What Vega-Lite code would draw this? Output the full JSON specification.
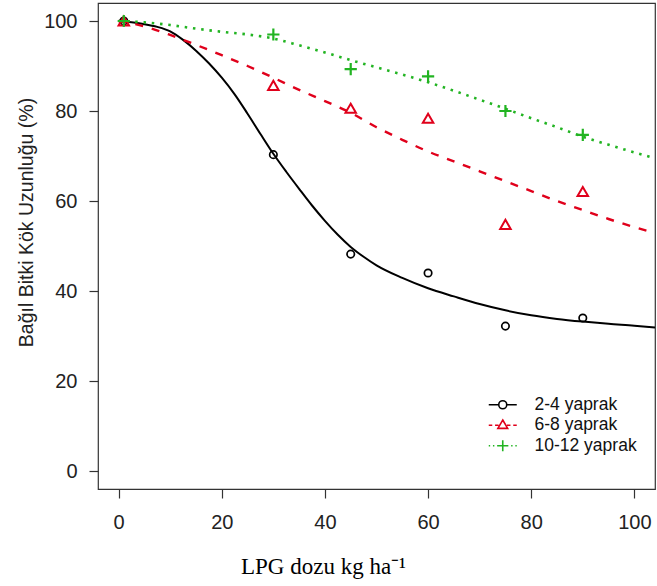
{
  "$schema": "https://vega.github.io/schema/vega-lite/v6.json",
  "width": 557,
  "height": 486,
  "autosize": {"type": "none"},
  "padding": {"left": 98, "top": 3, "right": 2, "bottom": 97},
  "background": "white",
  "config": {
    "view": {"stroke": "#333333", "strokeWidth": 1.2},
    "font": "Liberation Sans"
  },
  "datasets": {
    "fit": [
      {"x": 0, "y": 100, "series": "2-4 yaprak"},
      {"x": 2.5, "y": 99.7, "series": "2-4 yaprak"},
      {"x": 5, "y": 99.3, "series": "2-4 yaprak"},
      {"x": 7.5, "y": 98.7, "series": "2-4 yaprak"},
      {"x": 10, "y": 97.7, "series": "2-4 yaprak"},
      {"x": 12.5, "y": 95.8, "series": "2-4 yaprak"},
      {"x": 15, "y": 93.4, "series": "2-4 yaprak"},
      {"x": 17.5, "y": 90.6, "series": "2-4 yaprak"},
      {"x": 20, "y": 87.4, "series": "2-4 yaprak"},
      {"x": 22.5, "y": 83.7, "series": "2-4 yaprak"},
      {"x": 25, "y": 79.4, "series": "2-4 yaprak"},
      {"x": 27.5, "y": 74.9, "series": "2-4 yaprak"},
      {"x": 30, "y": 70.5, "series": "2-4 yaprak"},
      {"x": 32.5, "y": 66.5, "series": "2-4 yaprak"},
      {"x": 35, "y": 62.7, "series": "2-4 yaprak"},
      {"x": 37.5, "y": 59.0, "series": "2-4 yaprak"},
      {"x": 40, "y": 55.6, "series": "2-4 yaprak"},
      {"x": 42.5, "y": 52.5, "series": "2-4 yaprak"},
      {"x": 45, "y": 49.8, "series": "2-4 yaprak"},
      {"x": 47.5, "y": 47.6, "series": "2-4 yaprak"},
      {"x": 50, "y": 45.7, "series": "2-4 yaprak"},
      {"x": 55, "y": 42.9, "series": "2-4 yaprak"},
      {"x": 60, "y": 40.6, "series": "2-4 yaprak"},
      {"x": 65, "y": 38.8, "series": "2-4 yaprak"},
      {"x": 70, "y": 37.1, "series": "2-4 yaprak"},
      {"x": 75, "y": 35.7, "series": "2-4 yaprak"},
      {"x": 80, "y": 34.6, "series": "2-4 yaprak"},
      {"x": 85, "y": 33.8, "series": "2-4 yaprak"},
      {"x": 90, "y": 33.2, "series": "2-4 yaprak"},
      {"x": 95, "y": 32.7, "series": "2-4 yaprak"},
      {"x": 100, "y": 32.3, "series": "2-4 yaprak"},
      {"x": 104, "y": 31.9, "series": "2-4 yaprak"},
      {"x": 0, "y": 100, "series": "6-8 yaprak"},
      {"x": 5, "y": 98.8, "series": "6-8 yaprak"},
      {"x": 10, "y": 96.9, "series": "6-8 yaprak"},
      {"x": 15, "y": 94.7, "series": "6-8 yaprak"},
      {"x": 20, "y": 92.4, "series": "6-8 yaprak"},
      {"x": 25, "y": 90.0, "series": "6-8 yaprak"},
      {"x": 30, "y": 87.4, "series": "6-8 yaprak"},
      {"x": 35, "y": 84.7, "series": "6-8 yaprak"},
      {"x": 40, "y": 82.2, "series": "6-8 yaprak"},
      {"x": 45, "y": 79.6, "series": "6-8 yaprak"},
      {"x": 50, "y": 76.4, "series": "6-8 yaprak"},
      {"x": 55, "y": 73.6, "series": "6-8 yaprak"},
      {"x": 60, "y": 71.0, "series": "6-8 yaprak"},
      {"x": 65, "y": 68.8, "series": "6-8 yaprak"},
      {"x": 70, "y": 66.6, "series": "6-8 yaprak"},
      {"x": 75, "y": 64.4, "series": "6-8 yaprak"},
      {"x": 80, "y": 62.2, "series": "6-8 yaprak"},
      {"x": 85, "y": 60.0, "series": "6-8 yaprak"},
      {"x": 90, "y": 58.0, "series": "6-8 yaprak"},
      {"x": 95, "y": 56.0, "series": "6-8 yaprak"},
      {"x": 100, "y": 54.2, "series": "6-8 yaprak"},
      {"x": 104, "y": 52.9, "series": "6-8 yaprak"},
      {"x": 0, "y": 100, "series": "10-12 yaprak"},
      {"x": 5, "y": 99.7, "series": "10-12 yaprak"},
      {"x": 10, "y": 99.1, "series": "10-12 yaprak"},
      {"x": 15, "y": 98.3, "series": "10-12 yaprak"},
      {"x": 20, "y": 97.6, "series": "10-12 yaprak"},
      {"x": 25, "y": 97.0, "series": "10-12 yaprak"},
      {"x": 30, "y": 96.1, "series": "10-12 yaprak"},
      {"x": 35, "y": 94.6, "series": "10-12 yaprak"},
      {"x": 40, "y": 93.0, "series": "10-12 yaprak"},
      {"x": 45, "y": 91.3, "series": "10-12 yaprak"},
      {"x": 50, "y": 89.7, "series": "10-12 yaprak"},
      {"x": 55, "y": 88.1, "series": "10-12 yaprak"},
      {"x": 60, "y": 86.4, "series": "10-12 yaprak"},
      {"x": 65, "y": 84.5, "series": "10-12 yaprak"},
      {"x": 70, "y": 82.5, "series": "10-12 yaprak"},
      {"x": 75, "y": 80.5, "series": "10-12 yaprak"},
      {"x": 80, "y": 78.4, "series": "10-12 yaprak"},
      {"x": 85, "y": 76.4, "series": "10-12 yaprak"},
      {"x": 90, "y": 74.3, "series": "10-12 yaprak"},
      {"x": 95, "y": 72.5, "series": "10-12 yaprak"},
      {"x": 100, "y": 70.8, "series": "10-12 yaprak"},
      {"x": 104, "y": 69.5, "series": "10-12 yaprak"}
    ],
    "obs": [
      {"x": 1, "y": 100, "series": "2-4 yaprak"},
      {"x": 30, "y": 70.3, "series": "2-4 yaprak"},
      {"x": 45, "y": 48.2, "series": "2-4 yaprak"},
      {"x": 60, "y": 44.0, "series": "2-4 yaprak"},
      {"x": 75, "y": 32.2, "series": "2-4 yaprak"},
      {"x": 90, "y": 34.0, "series": "2-4 yaprak"},
      {"x": 1, "y": 100, "series": "6-8 yaprak"},
      {"x": 30, "y": 85.7, "series": "6-8 yaprak"},
      {"x": 45, "y": 80.6, "series": "6-8 yaprak"},
      {"x": 60, "y": 78.4, "series": "6-8 yaprak"},
      {"x": 75, "y": 54.8, "series": "6-8 yaprak"},
      {"x": 90, "y": 62.1, "series": "6-8 yaprak"},
      {"x": 1, "y": 100, "series": "10-12 yaprak"},
      {"x": 30, "y": 97.0, "series": "10-12 yaprak"},
      {"x": 45, "y": 89.3, "series": "10-12 yaprak"},
      {"x": 60, "y": 87.7, "series": "10-12 yaprak"},
      {"x": 75, "y": 80.0, "series": "10-12 yaprak"},
      {"x": 90, "y": 74.7, "series": "10-12 yaprak"}
    ]
  },
  "encoding": {
    "x": {
      "field": "x", "type": "quantitative",
      "scale": {"domain": [-4, 104], "nice": false, "zero": false},
      "axis": {
        "values": [0, 20, 40, 60, 80, 100],
        "title": "LPG dozu kg ha⁻¹",
        "titleFont": "Liberation Serif",
        "titleFontSize": 23,
        "titleFontWeight": "normal",
        "titleColor": "#000000",
        "titleX": 225,
        "titleY": 77,
        "titleAlign": "center",
        "titleBaseline": "middle",
        "labelFontSize": 20,
        "labelColor": "#222222",
        "labelPadding": 14,
        "labelFlush": false,
        "labelOverlap": false,
        "tickSize": 9,
        "tickColor": "#333333",
        "tickWidth": 1.2,
        "domain": false,
        "grid": false
      }
    },
    "y": {
      "field": "y", "type": "quantitative",
      "scale": {"domain": [-4, 104], "nice": false, "zero": false},
      "axis": {
        "values": [0, 20, 40, 60, 80, 100],
        "title": "Bağıl Bitki Kök Uzunluğu (%)",
        "titleFontSize": 19.5,
        "titleFontWeight": "normal",
        "titleColor": "#222222",
        "titleX": -72,
        "titleY": 219,
        "titleAlign": "center",
        "titleBaseline": "middle",
        "titleAngle": 270,
        "labelFontSize": 20,
        "labelColor": "#222222",
        "labelPadding": 12,
        "labelFlush": false,
        "labelOverlap": false,
        "tickSize": 9,
        "tickColor": "#333333",
        "tickWidth": 1.2,
        "domain": false,
        "grid": false
      }
    }
  },
  "layer": [
    {
      "data": {"name": "fit"},
      "transform": [{"filter": "datum.series === '2-4 yaprak'"}],
      "mark": {"type": "line", "interpolate": "monotone", "clip": true, "color": "#000000", "strokeWidth": 2}
    },
    {
      "data": {"name": "fit"},
      "transform": [{"filter": "datum.series === '6-8 yaprak'"}],
      "mark": {"type": "line", "interpolate": "monotone", "clip": true, "color": "#e0001b", "strokeWidth": 2.4, "strokeDash": [8, 9]}
    },
    {
      "data": {"name": "fit"},
      "transform": [{"filter": "datum.series === '10-12 yaprak'"}],
      "mark": {"type": "line", "interpolate": "monotone", "clip": true, "color": "#22b422", "strokeWidth": 2.6, "strokeDash": [2.5, 5.8]}
    },
    {
      "data": {"name": "obs"},
      "transform": [{"filter": "datum.series === '2-4 yaprak'"}],
      "mark": {"type": "point", "shape": "circle", "size": 55, "filled": false, "opacity": 1, "color": "#000000", "strokeWidth": 1.7}
    },
    {
      "data": {"name": "obs"},
      "transform": [{"filter": "datum.series === '6-8 yaprak'"}],
      "mark": {"type": "point", "shape": "triangle-up", "size": 110, "filled": false, "opacity": 1, "color": "#e0001b", "strokeWidth": 2}
    },
    {
      "data": {"name": "obs"},
      "transform": [{"filter": "datum.series === '10-12 yaprak'"}],
      "mark": {"type": "point", "shape": "M0,-1L0,1M-1,0L1,0", "size": 150, "filled": false, "opacity": 1, "color": "#22b422", "strokeWidth": 2.2}
    },
    {
      "data": {"name": "obs"},
      "transform": [{"filter": "false"}],
      "mark": {"type": "point", "filled": false, "opacity": 1},
      "encoding": {
        "color": {
          "field": "series", "type": "nominal",
          "scale": {"domain": ["2-4 yaprak", "6-8 yaprak", "10-12 yaprak"], "range": ["#000000", "#e0001b", "#22b422"]},
          "legend": {
            "title": null, "orient": "none", "legendX": 396, "legendY": 393, "padding": 0,
            "labelFontSize": 17.5, "labelColor": "#111111", "labelOffset": 23,
            "symbolSize": 196, "symbolStrokeWidth": 1.6, "rowPadding": 1.5
          }
        },
        "shape": {
          "field": "series", "type": "nominal",
          "scale": {
            "domain": ["2-4 yaprak", "6-8 yaprak", "10-12 yaprak"],
            "range": [
              "M-2,0L-0.57,0M0.57,0L2,0M0.57,0A0.57,0.57,0,1,1,-0.57,0A0.57,0.57,0,1,1,0.57,0",
              "M-2,0L-1.5,0M-1.1,0L-0.6,0M0.6,0L1.1,0M1.5,0L2,0M0,-0.75L0.7,0.45L-0.7,0.45Z",
              "M-2,0L-1.8,0M-1.4,0L-1.2,0M1.2,0L1.4,0M1.8,0L2,0M0,-0.8L0,0.8M-0.8,0L0.8,0"
            ]
          },
          "legend": {
            "title": null, "orient": "none", "legendX": 396, "legendY": 393, "padding": 0,
            "labelFontSize": 17.5, "labelColor": "#111111", "labelOffset": 23,
            "symbolSize": 196, "symbolStrokeWidth": 1.6, "rowPadding": 1.5
          }
        }
      }
    }
  ]
}
